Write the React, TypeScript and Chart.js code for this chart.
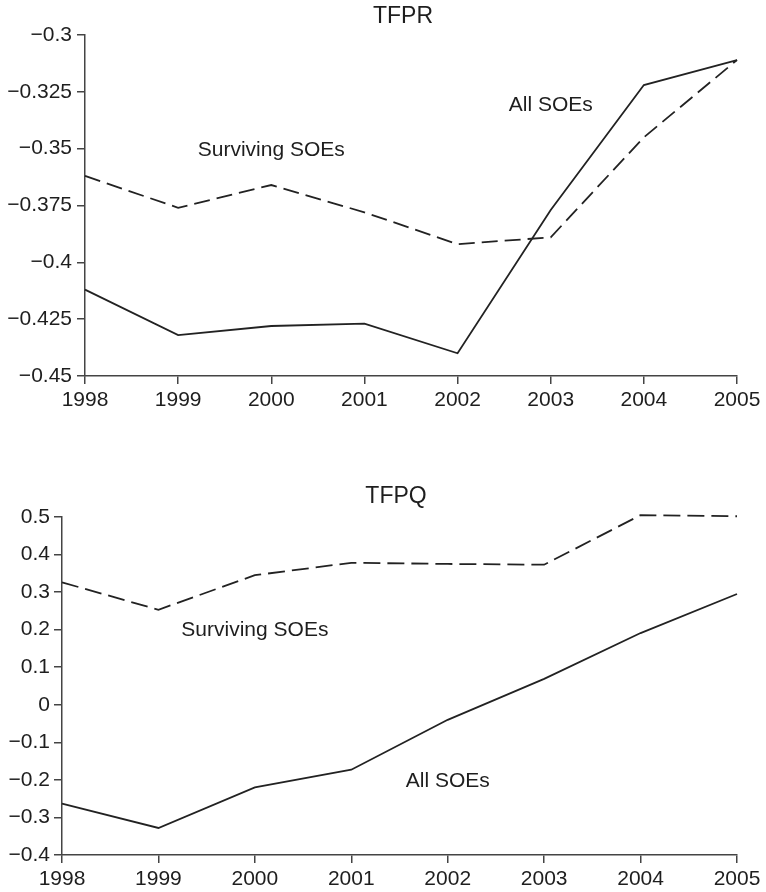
import React, { useEffect, useRef } from "react";
import { Chart, registerables } from "chart.js";

Chart.register(...registerables);

const years = [1998, 1999, 2000, 2001, 2002, 2003, 2004, 2005];

const tfprAll = [-0.412, -0.432, -0.428, -0.427, -0.44, -0.377, -0.322, -0.311];
const tfprSurviving = [-0.362, -0.376, -0.366, -0.378, -0.392, -0.389, -0.345, -0.311];

const tfpqAll = [-0.263, -0.328, -0.22, -0.173, -0.04, 0.069, 0.191, 0.295];
const tfpqSurviving = [0.326, 0.253, 0.345, 0.378, 0.375, 0.373, 0.505, 0.502];

const tfprTicks = [-0.45, -0.425, -0.4, -0.375, -0.35, -0.325, -0.3];
const tfprTickLabels = ["\u22120.45", "\u22120.425", "\u22120.4", "\u22120.375", "\u22120.35", "\u22120.325", "\u22120.3"];

const tfpqTicks = [-0.4, -0.3, -0.2, -0.1, 0, 0.1, 0.2, 0.3, 0.4, 0.5];
const tfpqTickLabels = ["\u22120.4", "\u22120.3", "\u22120.2", "\u22120.1", "0", "0.1", "0.2", "0.3", "0.4", "0.5"];

// annotation labels: [text, year, value]
const tfprNotes: [string, number, number][] = [
  ["Surviving SOEs", 2000, -0.3506],
  ["All SOEs", 2003, -0.3308],
];
const tfpqNotes: [string, number, number][] = [
  ["Surviving SOEs", 2000, 0.198],
  ["All SOEs", 2002, -0.204],
];

const FONT = "'Liberation Sans', Arial, Helvetica, sans-serif";
const TEXT = "#1e1e1e";
const AXIS = "#444";
const LINE = "#222";

type PanelSpec = {
  title: string;
  titleX: number;
  titleY: number;
  all: number[];
  surviving: number[];
  ticks: number[];
  tickLabels: string[];
  notes: [string, number, number][];
  yWidth: number;
  xHeight: number;
  padTop: number;
  yPad: number;
  dash: number[];
};

function makeChart(canvas: HTMLCanvasElement, p: PanelSpec) {
  const overlay = {
    id: "overlay" + p.title,
    afterDraw(chart: any) {
      const ctx = chart.ctx;
      const xs = chart.scales.x;
      const ys = chart.scales.y;
      ctx.save();
      ctx.fillStyle = TEXT;
      ctx.textAlign = "center";
      ctx.textBaseline = "middle";
      ctx.font = `23px ${FONT}`;
      ctx.fillText(p.title, p.titleX, p.titleY);
      ctx.font = `21px ${FONT}`;
      for (const [t, x, y] of p.notes) {
        ctx.fillText(t, xs.getPixelForValue(x), ys.getPixelForValue(y));
      }
      ctx.restore();
    },
  };
  return new Chart(canvas, {
    type: "line",
    data: {
      datasets: [
        {
          label: "All SOEs",
          data: years.map((y, i) => ({ x: y, y: p.all[i] })),
          borderColor: LINE,
          borderWidth: 1.8,
          pointRadius: 0,
          tension: 0,
          fill: false,
          clip: false,
        },
        {
          label: "Surviving SOEs",
          data: years.map((y, i) => ({ x: y, y: p.surviving[i] })),
          borderColor: LINE,
          borderWidth: 1.8,
          borderDash: p.dash,
          pointRadius: 0,
          tension: 0,
          fill: false,
          clip: false,
        },
      ],
    },
    options: {
      responsive: false,
      animation: false,
      devicePixelRatio: 1,
      layout: { padding: { top: p.padTop, right: 29, left: 0, bottom: 0 } },
      plugins: { legend: { display: false }, title: { display: false }, tooltip: { enabled: false } },
      scales: {
        x: {
          type: "linear",
          min: years[0],
          max: years[years.length - 1],
          afterBuildTicks: (s: any) => {
            s.ticks = years.map((v) => ({ value: v }));
          },
          afterFit: (s: any) => {
            s.height = p.xHeight;
          },
          ticks: {
            autoSkip: false,
            maxRotation: 0,
            color: TEXT,
            font: { family: FONT, size: 21 },
            padding: 4,
            callback: (v: any) => String(v),
          },
          grid: { display: true, drawOnChartArea: false, drawTicks: true, tickLength: 8, color: AXIS, lineWidth: 1.5 },
          border: { display: true, color: AXIS, width: 1.5 },
        },
        y: {
          type: "linear",
          min: p.ticks[0],
          max: p.ticks[p.ticks.length - 1],
          afterBuildTicks: (s: any) => {
            s.ticks = p.ticks.map((v) => ({ value: v }));
          },
          afterFit: (s: any) => {
            s.width = p.yWidth;
          },
          ticks: {
            autoSkip: false,
            color: TEXT,
            font: { family: FONT, size: 21 },
            padding: p.yPad,
            callback: (v: any) => {
              const i = p.ticks.findIndex((t) => Math.abs(t - v) < 1e-9);
              return i >= 0 ? p.tickLabels[i] : "";
            },
          },
          grid: { display: true, drawOnChartArea: false, drawTicks: true, tickLength: 8, color: AXIS, lineWidth: 1.5 },
          border: { display: true, color: AXIS, width: 1.5 },
        },
      },
    } as any,
    plugins: [overlay],
  });
}

export default function App() {
  const topRef = useRef<HTMLCanvasElement>(null);
  const botRef = useRef<HTMLCanvasElement>(null);

  useEffect(() => {
    const c1 = makeChart(topRef.current!, {
      title: "TFPR",
      titleX: 403,
      titleY: 17,
      all: tfprAll,
      surviving: tfprSurviving,
      ticks: tfprTicks,
      tickLabels: tfprTickLabels,
      notes: tfprNotes,
      yWidth: 85,
      xHeight: 70,
      padTop: 35,
      yPad: 5,
      dash: [16, 7],
    });
    const c2 = makeChart(botRef.current!, {
      title: "TFPQ",
      titleX: 396,
      titleY: 51,
      all: tfpqAll,
      surviving: tfpqSurviving,
      ticks: tfpqTicks,
      tickLabels: tfpqTickLabels,
      notes: tfpqNotes,
      yWidth: 62,
      xHeight: 37,
      padTop: 71,
      yPad: 4,
      dash: [17, 7],
    });
    return () => {
      c1.destroy();
      c2.destroy();
    };
  }, []);

  return (
    <div style={{ position: "absolute", left: 0, top: 0, width: 766, height: 892, background: "#fff" }}>
      <canvas ref={topRef} width={766} height={446} style={{ position: "absolute", left: 0, top: 0, width: 766, height: 446 }} />
      <canvas ref={botRef} width={766} height={446} style={{ position: "absolute", left: 0, top: 446, width: 766, height: 446 }} />
    </div>
  );
}
